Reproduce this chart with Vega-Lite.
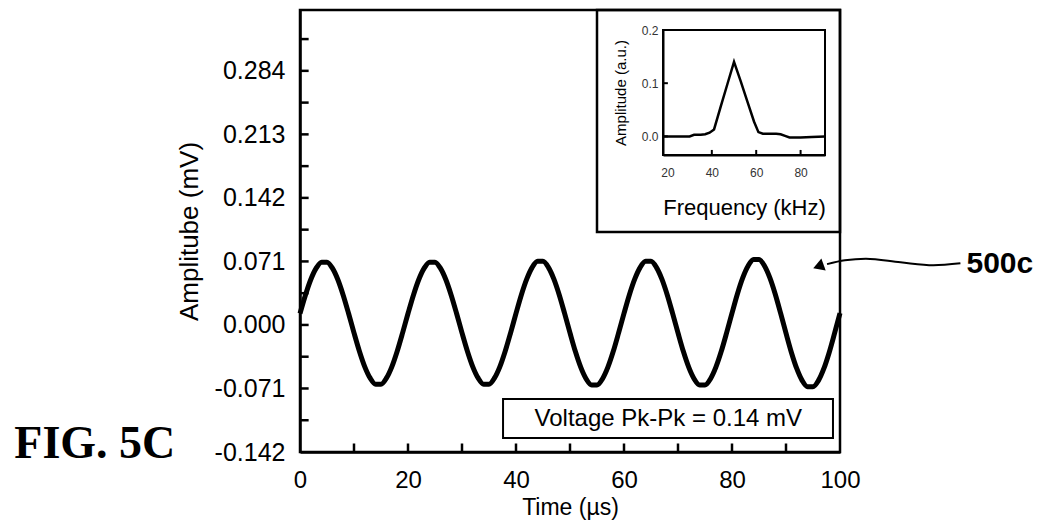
{
  "$schema": "https://vega.github.io/schema/vega-lite/v6.json",
  "width": 540,
  "height": 442,
  "autosize": {"type": "none"},
  "padding": {"left": 300, "top": 10, "right": 199, "bottom": 77},
  "background": "white",
  "config": {
    "view": {"stroke": "black", "strokeWidth": 2.5},
    "font": "Liberation Sans",
    "axis": {"grid": false, "ticks": false, "domainColor": "black", "labelColor": "black", "titleColor": "black", "labelFont": "Liberation Sans", "titleFont": "Liberation Sans", "titleFontWeight": "normal", "labelOverlap": false, "labelFlush": false}
  },
  "datasets": {
    "wave": [
      {"t":0,"v":0.0128},{"t":1,"v":0.0333},{"t":2,"v":0.0508},{"t":3,"v":0.0635},{"t":4,"v":0.0702},{"t":5,"v":0.0702},{"t":6,"v":0.0635},{"t":7,"v":0.0508},{"t":8,"v":0.0333},{"t":9,"v":0.0128},
      {"t":10,"v":-0.0088},{"t":11,"v":-0.0293},{"t":12,"v":-0.0468},{"t":13,"v":-0.0595},{"t":14,"v":-0.0662},{"t":15,"v":-0.0662},{"t":16,"v":-0.0595},{"t":17,"v":-0.0468},{"t":18,"v":-0.0293},{"t":19,"v":-0.0088},
      {"t":20,"v":0.0128},{"t":21,"v":0.0333},{"t":22,"v":0.0508},{"t":23,"v":0.0635},{"t":24,"v":0.0702},{"t":25,"v":0.0702},{"t":26,"v":0.0635},{"t":27,"v":0.0508},{"t":28,"v":0.0333},{"t":29,"v":0.0128},
      {"t":30,"v":-0.0088},{"t":31,"v":-0.0293},{"t":32,"v":-0.0468},{"t":33,"v":-0.0595},{"t":34,"v":-0.0662},{"t":35,"v":-0.0662},{"t":36,"v":-0.0595},{"t":37,"v":-0.0468},{"t":38,"v":-0.0293},{"t":39,"v":-0.0088},
      {"t":40,"v":0.0129},{"t":41,"v":0.0338},{"t":42,"v":0.0515},{"t":43,"v":0.0644},{"t":44,"v":0.0712},{"t":45,"v":0.0712},{"t":46,"v":0.0644},{"t":47,"v":0.0515},{"t":48,"v":0.0338},{"t":49,"v":0.0129},
      {"t":50,"v":-0.0089},{"t":51,"v":-0.0298},{"t":52,"v":-0.0475},{"t":53,"v":-0.0604},{"t":54,"v":-0.0672},{"t":55,"v":-0.0672},{"t":56,"v":-0.0604},{"t":57,"v":-0.0475},{"t":58,"v":-0.0298},{"t":59,"v":-0.0089},
      {"t":60,"v":0.0129},{"t":61,"v":0.0338},{"t":62,"v":0.0515},{"t":63,"v":0.0644},{"t":64,"v":0.0712},{"t":65,"v":0.0712},{"t":66,"v":0.0644},{"t":67,"v":0.0515},{"t":68,"v":0.0338},{"t":69,"v":0.0129},
      {"t":70,"v":-0.0089},{"t":71,"v":-0.0298},{"t":72,"v":-0.0475},{"t":73,"v":-0.0604},{"t":74,"v":-0.0672},{"t":75,"v":-0.0672},{"t":76,"v":-0.0604},{"t":77,"v":-0.0475},{"t":78,"v":-0.0298},{"t":79,"v":-0.0089},
      {"t":80,"v":0.0132},{"t":81,"v":0.0347},{"t":82,"v":0.0529},{"t":83,"v":0.0662},{"t":84,"v":0.0731},{"t":85,"v":0.0731},{"t":86,"v":0.0662},{"t":87,"v":0.0529},{"t":88,"v":0.0347},{"t":89,"v":0.0132},
      {"t":90,"v":-0.0092},{"t":91,"v":-0.0307},{"t":92,"v":-0.0489},{"t":93,"v":-0.0622},{"t":94,"v":-0.0691},{"t":95,"v":-0.0691},{"t":96,"v":-0.0622},{"t":97,"v":-0.0489},{"t":98,"v":-0.0307},{"t":99,"v":-0.0092},
      {"t":100,"v":0.0132}
    ],
    "spectrum": [
      {"f":18,"a":0.0},{"f":24,"a":0.0},{"f":30,"a":0.0},{"f":32,"a":0.003},{"f":35,"a":0.003},{"f":37,"a":0.004},{"f":39,"a":0.007},{"f":41,"a":0.013},
      {"f":44,"a":0.056},{"f":47,"a":0.098},{"f":50,"a":0.14},{"f":53,"a":0.104},{"f":56,"a":0.066},{"f":59,"a":0.028},{"f":61,"a":0.008},{"f":63,"a":0.005},
      {"f":66,"a":0.005},{"f":69,"a":0.005},{"f":71,"a":0.004},{"f":73,"a":0.001},{"f":75,"a":-0.002},{"f":80,"a":-0.002},{"f":85,"a":-0.001},{"f":91,"a":0.0}
    ],
    "yticks": [{"v":-0.1065},{"v":-0.071},{"v":-0.0355},{"v":0},{"v":0.0355},{"v":0.071},{"v":0.1065},{"v":0.142},{"v":0.1775},{"v":0.213},{"v":0.2485},{"v":0.284},{"v":0.3195}],
    "xticks": [{"t":10},{"t":20},{"t":30},{"t":40},{"t":50},{"t":60},{"t":70},{"t":80},{"t":90}],
    "insetyticks": [{"a":0},{"a":0.1}],
    "insetxticks": [{"f":40},{"f":60},{"f":80}],
    "arrow": [
      {"t":122.3,"v":0.0690,"o":1},{"t":117.3,"v":0.0668,"o":2},{"t":111.2,"v":0.0700,"o":3},{"t":104.8,"v":0.0740,"o":4},{"t":100.9,"v":0.0722,"o":5},{"t":97.6,"v":0.0680,"o":6}
    ],
    "arrowhead": [{"t":96.0,"v":0.0655}],
    "voltbox": [{"t":37.6,"t2":98.7,"v":-0.0828,"v2":-0.1264}],
    "insetbox": [{"t":55.0,"t2":100,"v":0.104,"v2":0.352}],
    "labels": [
      {"t":68.2,"v":-0.1046,"text":"Voltage Pk-Pk = 0.14 mV"}
    ],
    "fig": [{"t":-38,"v":-0.133,"text":"FIG. 5C"}],
    "ref": [{"t":129.6,"v":0.068,"text":"500c"}],
    "insetframe": [{"f":18,"f2":91,"a":-0.035,"a2":0.2}]
  },
  "layer": [
    {
      "layer": [
        {
          "data": {"name": "wave"},
          "mark": {"type": "line", "color": "black", "strokeWidth": 5, "interpolate": "monotone"},
          "encoding": {
            "x": {"field": "t", "type": "quantitative", "scale": {"domain": [0, 100], "nice": false, "zero": false},
              "axis": {"title": "Time (µs)", "values": [0,20,40,60,80,100], "domainWidth": 2.5, "labelFontSize": 24, "labelPadding": 16, "titleFontSize": 23, "titlePadding": 4}},
            "y": {"field": "v", "type": "quantitative", "scale": {"domain": [-0.142, 0.352], "nice": false, "zero": false},
              "axis": {"title": "Amplitube (mV)", "values": [-0.142,-0.071,0,0.071,0.142,0.213,0.284], "labelExpr": "replace(format(datum.value, '.3f'), '\u2212', '-')", "domainWidth": 2.5, "labelFontSize": 25, "labelPadding": 15, "titleFontSize": 26, "titlePadding": 12}}
          }
        },
        {
          "data": {"name": "yticks"},
          "mark": {"type": "rule", "color": "black", "strokeWidth": 2.5},
          "encoding": {
            "y": {"field": "v", "type": "quantitative"},
            "x": {"datum": 0},
            "x2": {"datum": 1.6}
          }
        },
        {
          "data": {"name": "xticks"},
          "mark": {"type": "rule", "color": "black", "strokeWidth": 2.5},
          "encoding": {
            "x": {"field": "t", "type": "quantitative"},
            "y": {"datum": -0.142},
            "y2": {"datum": -0.1325}
          }
        },
        {
          "data": {"name": "voltbox"},
          "mark": {"type": "rect", "fill": null, "fillOpacity": 0, "stroke": "black", "strokeWidth": 2},
          "encoding": {
            "x": {"field": "t", "type": "quantitative"},
            "x2": {"field": "t2"},
            "y": {"field": "v", "type": "quantitative"},
            "y2": {"field": "v2"}
          }
        },
        {
          "data": {"name": "insetbox"},
          "mark": {"type": "rect", "fill": null, "fillOpacity": 0, "stroke": "black", "strokeWidth": 2.5},
          "encoding": {
            "x": {"field": "t", "type": "quantitative"},
            "x2": {"field": "t2"},
            "y": {"field": "v", "type": "quantitative"},
            "y2": {"field": "v2"}
          }
        },
        {
          "data": {"name": "labels"},
          "mark": {"type": "text", "fontSize": 24, "color": "black", "align": "center", "baseline": "middle"},
          "encoding": {
            "x": {"field": "t", "type": "quantitative"},
            "y": {"field": "v", "type": "quantitative"},
            "text": {"field": "text"}
          }
        },
        {
          "data": {"name": "fig"},
          "mark": {"type": "text", "font": "Liberation Serif", "fontWeight": "bold", "fontSize": 46, "color": "black", "align": "center", "baseline": "middle"},
          "encoding": {
            "x": {"field": "t", "type": "quantitative"},
            "y": {"field": "v", "type": "quantitative"},
            "text": {"field": "text"}
          }
        },
        {
          "data": {"name": "ref"},
          "mark": {"type": "text", "fontWeight": "bold", "fontSize": 30, "color": "black", "align": "center", "baseline": "middle"},
          "encoding": {
            "x": {"field": "t", "type": "quantitative"},
            "y": {"field": "v", "type": "quantitative"},
            "text": {"field": "text"}
          }
        },
        {
          "data": {"name": "arrow"},
          "mark": {"type": "line", "color": "black", "strokeWidth": 2, "interpolate": "monotone"},
          "encoding": {
            "x": {"field": "t", "type": "quantitative"},
            "y": {"field": "v", "type": "quantitative"},
            "order": {"field": "o"}
          }
        },
        {
          "data": {"name": "arrowhead"},
          "mark": {"type": "point", "shape": "triangle-left", "filled": true, "color": "black", "opacity": 1, "size": 160, "angle": -20},
          "encoding": {
            "x": {"field": "t", "type": "quantitative"},
            "y": {"field": "v", "type": "quantitative"}
          }
        }
      ]
    },
    {
      "layer": [
        {
          "data": {"name": "spectrum"},
          "mark": {"type": "line", "color": "black", "strokeWidth": 2.5},
          "encoding": {
            "x": {"field": "f", "type": "quantitative", "scale": {"domain": [18, 91], "range": [363, 525], "nice": false, "zero": false},
              "axis": {"orient": "bottom", "offset": -297, "title": "Frequency (kHz)", "values": [20, 40, 60, 80], "domainWidth": 2, "labelFontSize": 12, "labelColor": "#333", "labelPadding": 12, "titleFontSize": 22, "titlePadding": 19}},
            "y": {"field": "a", "type": "quantitative", "scale": {"domain": [-0.035, 0.2], "range": [145, 20], "nice": false, "zero": false},
              "axis": {"orient": "left", "offset": -363, "title": "Amplitude (a.u.)", "values": [0, 0.1, 0.2], "format": ".1f", "domainWidth": 2, "labelFontSize": 12, "labelColor": "#333", "labelPadding": 5, "titleFontSize": 15, "titlePadding": 13}}
          }
        },
        {
          "data": {"name": "insetyticks"},
          "mark": {"type": "rule", "color": "black", "strokeWidth": 2},
          "encoding": {
            "y": {"field": "a", "type": "quantitative"},
            "x": {"datum": 18},
            "x2": {"datum": 20.2}
          }
        },
        {
          "data": {"name": "insetxticks"},
          "mark": {"type": "rule", "color": "black", "strokeWidth": 2},
          "encoding": {
            "x": {"field": "f", "type": "quantitative"},
            "y": {"datum": -0.035},
            "y2": {"datum": -0.0255}
          }
        },
        {
          "data": {"name": "insetframe"},
          "mark": {"type": "rect", "fill": null, "fillOpacity": 0, "stroke": "black", "strokeWidth": 2},
          "encoding": {
            "x": {"field": "f", "type": "quantitative"},
            "x2": {"field": "f2"},
            "y": {"field": "a", "type": "quantitative"},
            "y2": {"field": "a2"}
          }
        }
      ]
    }
  ],
  "resolve": {"scale": {"x": "independent", "y": "independent"}, "axis": {"x": "independent", "y": "independent"}}
}
